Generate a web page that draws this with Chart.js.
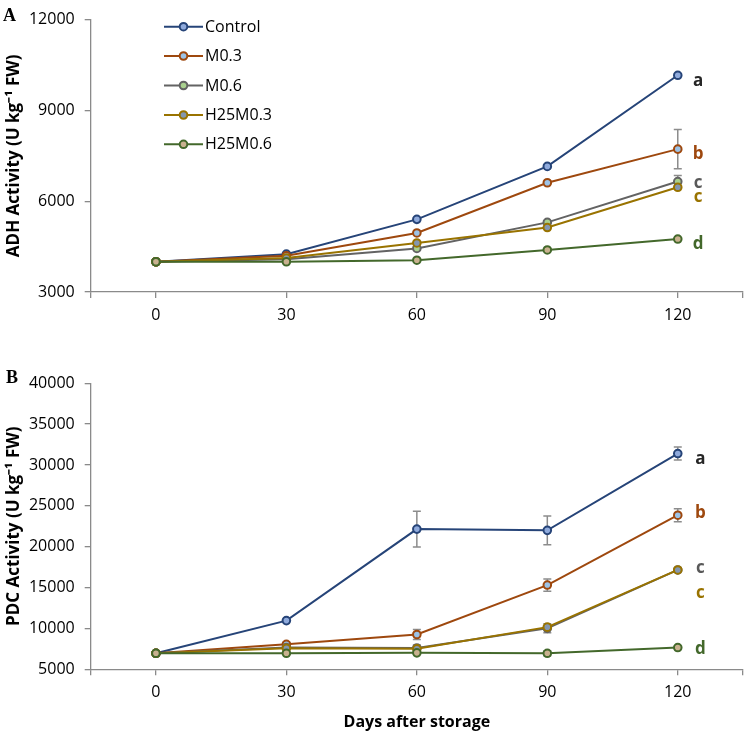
<!DOCTYPE html>
<html><head><meta charset="utf-8">
<script src="https://cdn.jsdelivr.net/npm/chart.js@4.4.1/dist/chart.umd.min.js"></script>
<style>
html,body{margin:0;padding:0;background:#fff;}
#wrap{position:relative;width:751px;height:733px;}
canvas{position:absolute;left:0;}
</style></head>
<body>
<div id="wrap">
<canvas id="cA" width="751" height="345" style="top:0"></canvas>
<canvas id="cB" width="751" height="388" style="top:345px"></canvas>
</div>
<script>
// ---- data ----
const days = [0, 30, 60, 90, 120];
const seriesNames = ['Control', 'M0.3', 'M0.6', 'H25M0.3', 'H25M0.6'];

// Panel A: ADH activity
const adhControl = [4000, 4250, 5400, 7150, 10160];
const adhM03     = [4000, 4200, 4950, 6610, 7720];
const adhM06     = [4000, 4080, 4440, 5300, 6650];
const adhH25M03  = [4000, 4120, 4620, 5130, 6460];
const adhH25M06  = [4000, 4000, 4050, 4390, 4750];
const adhErrControl = [0, 0, 0, 0, 0];
const adhErrM03     = [0, 0, 0, 0, 650];
const adhErrM06     = [0, 0, 0, 0, 200];
const adhErrH25M03  = [0, 0, 0, 0, 0];
const adhErrH25M06  = [0, 0, 0, 0, 0];
const adhYTicks = [3000, 6000, 9000, 12000];
const adhLetters = ['a', 'b', 'c', 'c', 'd'];
const adhLetterY = [9980, 7560, 6600, 6150, 4580];

// Panel B: PDC activity
const pdcControl = [6950, 10950, 22150, 22000, 31400];
const pdcM03     = [6950, 8050, 9250, 15300, 23850];
const pdcM06     = [6950, 7650, 7600, 10000, 17150];
const pdcH25M03  = [6950, 7550, 7500, 10150, 17150];
const pdcH25M06  = [6950, 6950, 7000, 6950, 7650];
const pdcErrControl = [0, 0, 2200, 1750, 800];
const pdcErrM03     = [0, 250, 600, 750, 800];
const pdcErrM06     = [0, 0, 350, 550, 0];
const pdcErrH25M03  = [0, 0, 0, 0, 0];
const pdcErrH25M06  = [0, 0, 0, 300, 0];
const pdcYTicks = [5000, 10000, 15000, 20000, 25000, 30000, 35000, 40000];
const pdcLetters = ['a', 'b', 'c', 'c', 'd'];
const pdcLetterY = [30700, 24150, 17400, 14350, 7450];

// ---- styles ----
const lineColors  = ['#264478', '#9e480e', '#636363', '#997300', '#43682b'];
const fillColors  = ['#8faadc', '#9dc3e6', '#a9d18e', '#8497b0', '#c9b18f'];
const letterColors = ['#262626', '#9e480e', '#595959', '#997300', '#43682b'];
const axisColor = '#8a8a8a';
const FONT = "'Open Sans', 'Liberation Sans', sans-serif";

function makeDatasets(valsList, errList) {
  return valsList.map((vals, i) => ({
    label: seriesNames[i],
    data: days.map((d, j) => ({x: d, y: vals[j]})),
    err: errList[i],
    borderColor: lineColors[i],
    backgroundColor: fillColors[i],
    pointBackgroundColor: fillColors[i],
    pointBorderColor: lineColors[i],
    pointBorderWidth: 2,
    pointRadius: 3.8,
    borderWidth: 2,
    tension: 0,
    order: 5 - i
  }));
}

const errorBarPlugin = {
  id: 'errorBars',
  beforeDatasetsDraw(chart) {
    const ctx = chart.ctx, xs = chart.scales.x, ys = chart.scales.y;
    ctx.save();
    ctx.strokeStyle = '#8c8c8c';
    ctx.lineWidth = 1.5;
    chart.data.datasets.forEach(ds => {
      ds.data.forEach((p, j) => {
        const e = ds.err[j];
        if (!e) return;
        const x = xs.getPixelForValue(p.x);
        const y1 = ys.getPixelForValue(p.y + e);
        const y2 = ys.getPixelForValue(p.y - e);
        ctx.beginPath();
        ctx.moveTo(x, y1); ctx.lineTo(x, y2);
        ctx.moveTo(x - 4, y1); ctx.lineTo(x + 4, y1);
        ctx.moveTo(x - 4, y2); ctx.lineTo(x + 4, y2);
        ctx.stroke();
      });
    });
    ctx.restore();
  }
};

const lettersPlugin = {
  id: 'letters',
  afterDatasetsDraw(chart, args, opts) {
    const ctx = chart.ctx, xs = chart.scales.x, ys = chart.scales.y;
    ctx.save();
    ctx.font = 'bold 17px ' + FONT;
    ctx.textAlign = 'center';
    ctx.textBaseline = 'middle';
    opts.letters.forEach((L, i) => {
      ctx.fillStyle = letterColors[i];
      ctx.fillText(L, xs.getPixelForValue(opts.x), ys.getPixelForValue(opts.y[i]));
    });
    // panel tag
    ctx.fillStyle = '#000';
    ctx.font = "bold 18px 'Liberation Serif', 'DejaVu Serif', serif";
    ctx.textAlign = 'left';
    ctx.fillText(opts.tag, opts.tagX, opts.tagY);
    ctx.restore();
  }
};

const legendPlugin = {
  id: 'customLegend',
  afterDraw(chart, args, opts) {
    if (!opts.show) return;
    const ctx = chart.ctx;
    ctx.save();
    const ys = [26.7, 56, 85.5, 115, 144.3];
    chart.data.datasets.forEach((ds, i) => {
      const y = ys[i];
      ctx.strokeStyle = ds.borderColor;
      ctx.lineWidth = 2;
      ctx.beginPath(); ctx.moveTo(164, y); ctx.lineTo(203, y); ctx.stroke();
      ctx.beginPath(); ctx.arc(183.5, y, 3.8, 0, Math.PI * 2);
      ctx.fillStyle = ds.pointBackgroundColor; ctx.fill();
      ctx.lineWidth = 2; ctx.stroke();
      ctx.fillStyle = '#000';
      ctx.font = '16px ' + FONT;
      ctx.textBaseline = 'middle';
      ctx.fillText(ds.label, 205, y + 0.5);
    });
    ctx.restore();
  }
};

function makeChart(id, datasets, yMin, yMax, yTicks, yTitle, xTitle, xAxisHeight, padTop, letterOpts, showLegend) {
  return new Chart(document.getElementById(id), {
    type: 'line',
    data: {datasets},
    options: {
      responsive: false,
      animation: false,
      layout: {padding: {top: padTop, right: 6, left: 0, bottom: 0}},
      plugins: {
        legend: {display: false},
        tooltip: {enabled: false},
        letters: letterOpts,
        customLegend: {show: showLegend}
      },
      scales: {
        x: {
          type: 'linear', min: -15, max: 135,
          afterBuildTicks: s => { s.ticks = [-15, ...days, 135].map(v => ({value: v})); },
          afterFit: s => { s.height = xAxisHeight; },
          ticks: {
            autoSkip: false, maxRotation: 0, padding: 8, color: '#000',
            font: {family: FONT, size: 16},
            callback: v => days.includes(v) ? String(v) : ''
          },
          grid: {drawOnChartArea: false, drawTicks: true, tickLength: 6, color: axisColor, lineWidth: 1.3},
          border: {display: true, color: axisColor, width: 1.3},
          title: xTitle ? {display: true, text: xTitle, color: '#000', font: {family: FONT, size: 16, weight: 'bold'}, padding: {top: 0, bottom: 1}} : {display: false}
        },
        y: {
          type: 'linear', min: yMin, max: yMax,
          afterBuildTicks: s => { s.ticks = yTicks.map(v => ({value: v})); },
          afterFit: s => { s.width = 90.7; },
          ticks: {padding: 10, color: '#000', font: {family: FONT, size: 16}, callback: v => String(v)},
          grid: {drawOnChartArea: false, drawTicks: true, tickLength: 6, color: axisColor, lineWidth: 1.3},
          border: {display: true, color: axisColor, width: 1.3},
          title: {display: true, text: yTitle, color: '#000', font: {family: FONT, size: 17, weight: 'bold'}, padding: {top: 4, bottom: 0}}
        }
      }
    },
    plugins: [errorBarPlugin, lettersPlugin, legendPlugin]
  });
}

makeChart('cA',
  makeDatasets([adhControl, adhM03, adhM06, adhH25M03, adhH25M06],
               [adhErrControl, adhErrM03, adhErrM06, adhErrH25M03, adhErrH25M06]),
  3000, 12000, adhYTicks, 'ADH Activity (U kg\u207B\u00B9 FW)', null, 53, 11,
  {letters: adhLetters, x: 124.7, y: adhLetterY, tag: 'A', tagX: 3, tagY: 16}, true);

makeChart('cB',
  makeDatasets([pdcControl, pdcM03, pdcM06, pdcH25M03, pdcH25M06],
               [pdcErrControl, pdcErrM03, pdcErrM06, pdcErrH25M03, pdcErrH25M06]),
  5000, 40000, pdcYTicks, 'PDC Activity (U kg\u207B\u00B9 FW)', 'Days after storage', 63.8, 38.3,
  {letters: pdcLetters, x: 125.2, y: pdcLetterY, tag: 'B', tagX: 6, tagY: 33}, false);
</script>
</body></html>
